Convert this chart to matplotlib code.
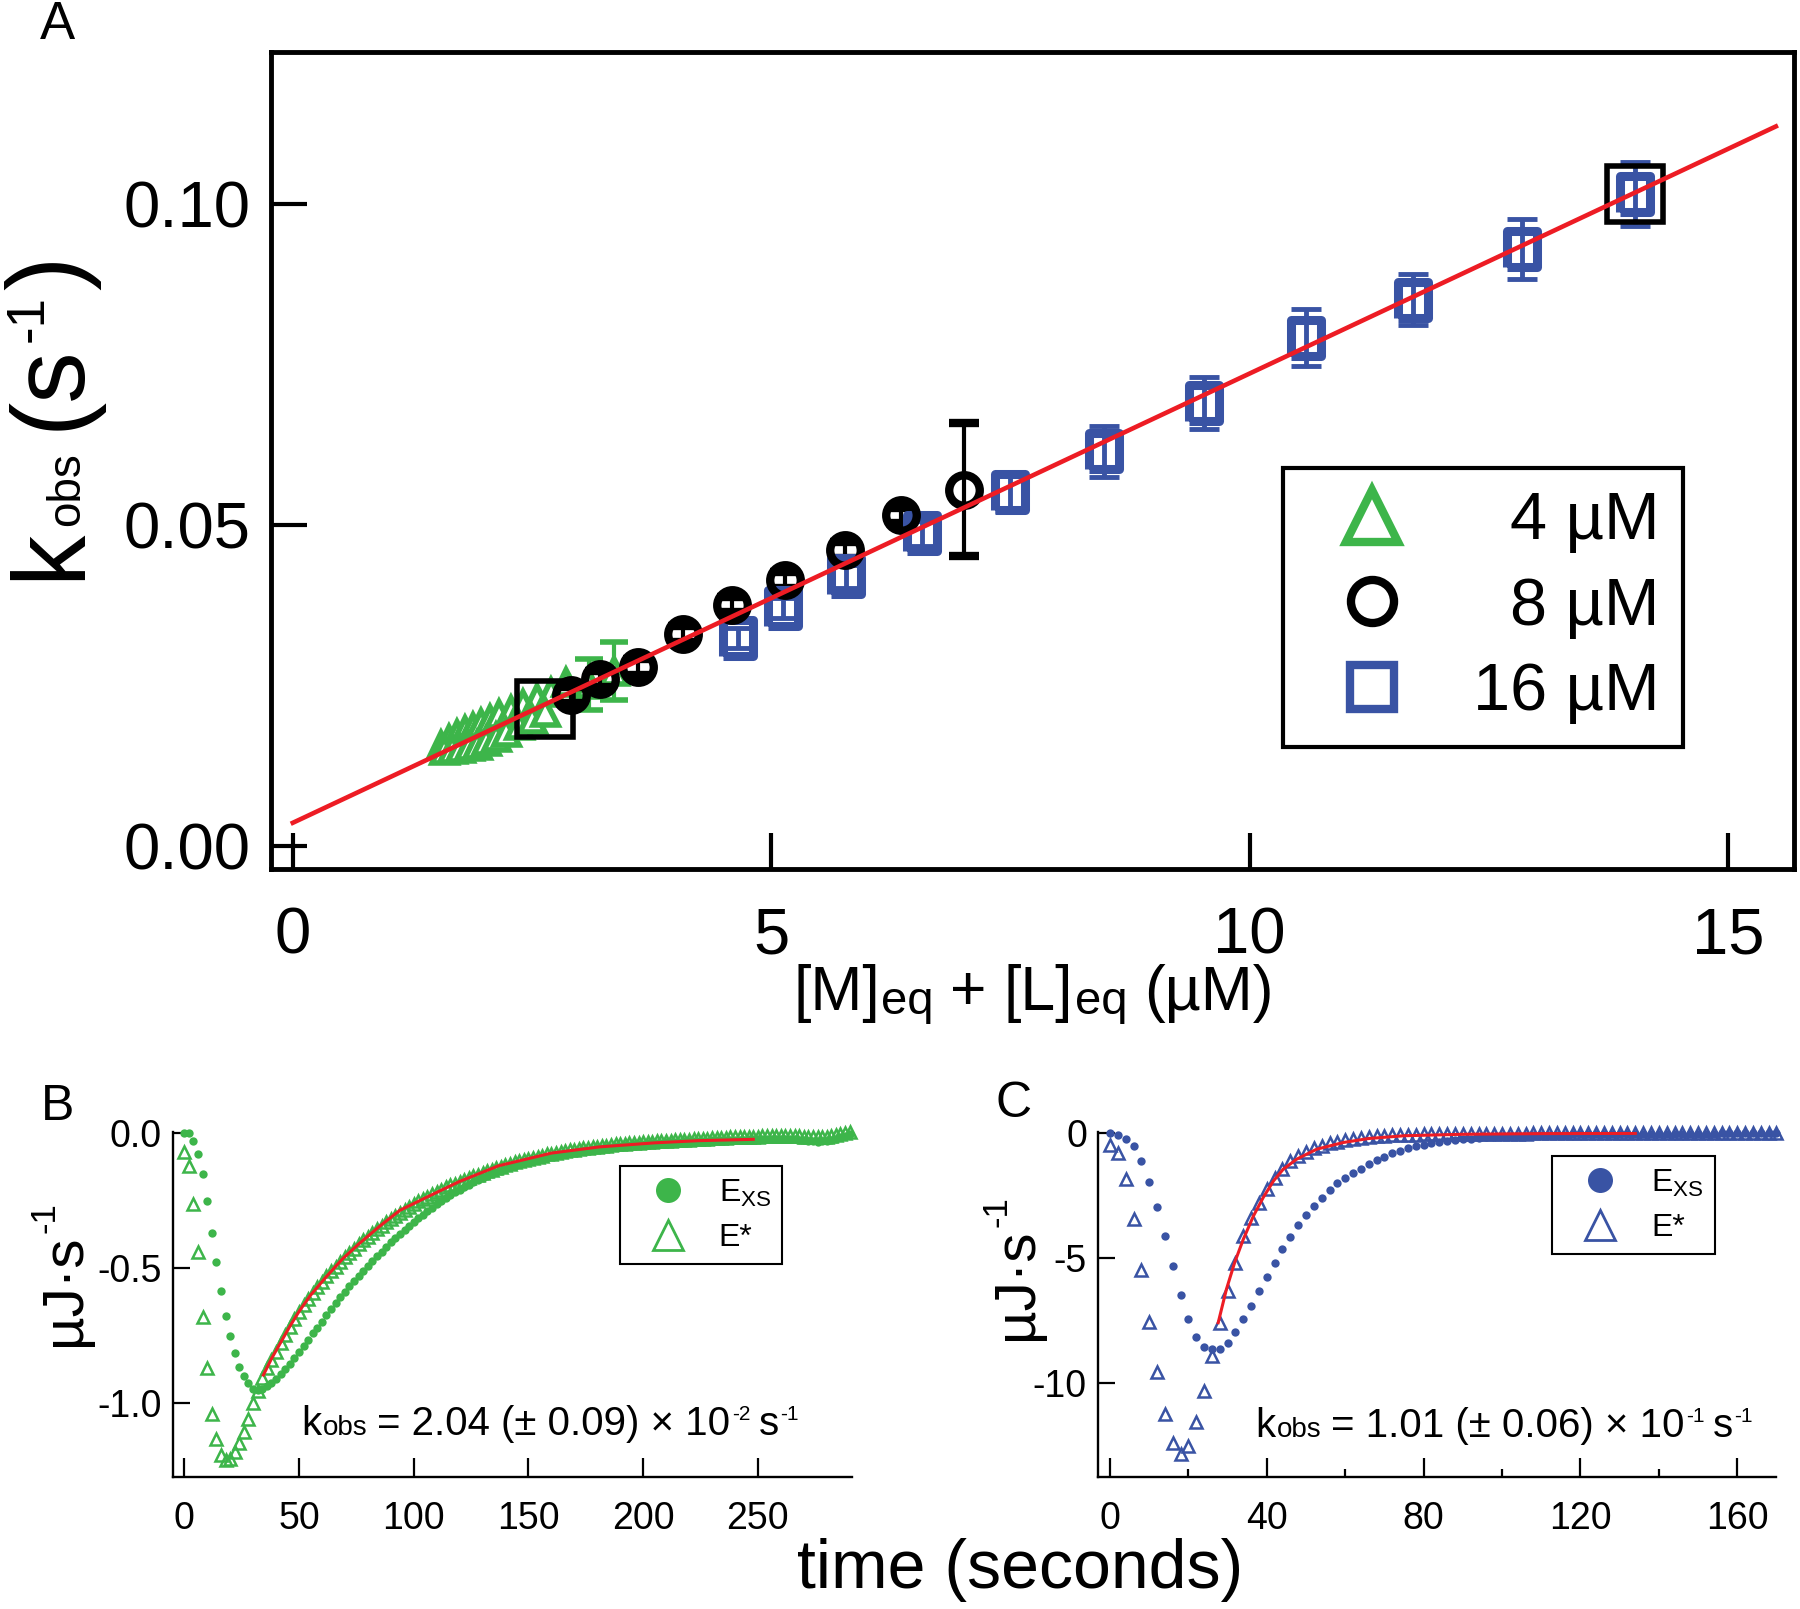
import numpy as np
import matplotlib
matplotlib.use('Agg')
import matplotlib.pyplot as plt
from matplotlib.lines import Line2D
from matplotlib.transforms import offset_copy

plt.rcParams['font.family'] = ['Liberation Sans', 'DejaVu Sans']
plt.rcParams['mathtext.fontset'] = 'custom'
plt.rcParams['mathtext.rm'] = 'Liberation Sans'
plt.rcParams['axes.unicode_minus'] = False

GREEN = '#3DB54A'
BLUE = '#3953A4'
RED = '#ED1C24'

# ---------------- panel A : kobs vs [M]eq + [L]eq ----------------
tri4_x = [1.55, 1.63, 1.72, 1.80, 1.88, 1.97, 2.06, 2.16, 2.28, 2.41, 2.55, 2.70, 2.86,
          1.58, 1.66, 1.75, 1.84, 1.93, 2.02, 2.12, 2.23, 2.36, 2.50, 2.64]
tri4_y = [0.0158, 0.0166, 0.0174, 0.0180, 0.0186, 0.0192, 0.0198, 0.0205, 0.0212, 0.0221, 0.0230, 0.0240, 0.0256,
          0.0150, 0.0151, 0.0153, 0.0155, 0.0158, 0.0163, 0.0170, 0.0178, 0.0188, 0.0198, 0.0208]
tri4_err_x = [3.10, 3.36]
tri4_err_y = [0.0252, 0.0272]
tri4_err = [0.0040, 0.0045]

circ8_x = [2.91, 3.21, 3.61, 4.08, 4.59, 5.14, 5.77, 6.36, 7.01]
circ8_y = [0.0235, 0.0260, 0.0279, 0.0330, 0.0376, 0.0414, 0.0461, 0.0515, 0.0555]
circ8_err = [0.0012, 0.0012, 0.0012, 0.0012, 0.0012, 0.0012, 0.0012, 0.0012, 0.0104]

sq16_x = [4.65, 5.12, 5.78, 6.58, 7.50, 8.48, 9.52, 10.59, 11.71, 12.85, 14.03]
sq16_y = [0.0324, 0.0371, 0.0420, 0.0487, 0.0552, 0.0615, 0.0690, 0.0792, 0.0851, 0.0930, 0.1016]
sq16_err = [0.0016, 0.0016, 0.0018, 0.0020, 0.0030, 0.0040, 0.0040, 0.0045, 0.0040, 0.0047, 0.0050]

fitA_x = [0.0, 15.5]
fitA_y = [0.0036, 0.1121]

box_x = [2.64, 14.03]
box_y = [0.0213, 0.1016]

# ---------------- panel B : 4 uM titration (green) ----------------
t_b = np.arange(0, 292, 2)
exs_b = [0.0, 0.0, -0.03, -0.075, -0.15, -0.25, -0.37, -0.475, -0.585, -0.675,
         -0.75, -0.815, -0.865, -0.90, -0.925, -0.945, -0.952, -0.947, -0.937, -0.926,
         -0.91, -0.892, -0.874, -0.853, -0.831, -0.808, -0.787, -0.764, -0.741, -0.719,
         -0.697, -0.673, -0.651, -0.629, -0.607, -0.587, -0.567, -0.547, -0.528, -0.51,
         -0.492, -0.473, -0.455, -0.438, -0.421, -0.404, -0.388, -0.372, -0.357, -0.342,
         -0.328, -0.314, -0.301, -0.288, -0.275, -0.263, -0.251, -0.24, -0.229, -0.218,
         -0.208, -0.199, -0.19, -0.181, -0.173, -0.165, -0.158, -0.151, -0.144, -0.138,
         -0.131, -0.126, -0.12, -0.115, -0.11, -0.105, -0.1, -0.096, -0.092, -0.088,
         -0.084, -0.08, -0.077, -0.074, -0.071, -0.068, -0.065, -0.062, -0.06, -0.058,
         -0.055, -0.053, -0.051, -0.049, -0.047, -0.046, -0.044, -0.043, -0.041, -0.04,
         -0.039, -0.037, -0.036, -0.035, -0.034, -0.033, -0.032, -0.031, -0.031, -0.03,
         -0.029, -0.029, -0.028, -0.027, -0.027, -0.026, -0.026, -0.025, -0.025, -0.024,
         -0.024, -0.023, -0.023, -0.022, -0.022, -0.022, -0.021, -0.021, -0.021, -0.02,
         -0.02, -0.02, -0.021, -0.022, -0.024, -0.026, -0.028, -0.03, -0.031, -0.03,
         -0.028, -0.025, -0.02, -0.014, -0.008, -0.004]
estar_b = [-0.07, -0.12, -0.26, -0.44, -0.68, -0.87, -1.04, -1.13, -1.19, -1.21,
           -1.205, -1.18, -1.145, -1.105, -1.058, -1.0, -0.955, -0.905, -0.87, -0.84,
           -0.81, -0.777, -0.746, -0.716, -0.688, -0.66, -0.636, -0.612, -0.59, -0.569,
           -0.549, -0.529, -0.511, -0.493, -0.476, -0.459, -0.443, -0.427, -0.411, -0.396,
           -0.382, -0.368, -0.355, -0.342, -0.33, -0.318, -0.306, -0.294, -0.283, -0.272,
           -0.262, -0.252, -0.243, -0.234, -0.226, -0.218, -0.209, -0.198, -0.192, -0.187,
           -0.18, -0.173, -0.166, -0.159, -0.153, -0.147, -0.141, -0.135, -0.129, -0.123,
           -0.118, -0.112, -0.107, -0.102, -0.098, -0.094, -0.09, -0.086, -0.082, -0.078,
           -0.075, -0.072, -0.069, -0.066, -0.063, -0.06, -0.058, -0.055, -0.053, -0.051,
           -0.049, -0.047, -0.045, -0.043, -0.041, -0.04, -0.038, -0.037, -0.035, -0.034,
           -0.033, -0.032, -0.031, -0.03, -0.029, -0.028, -0.027, -0.026, -0.025, -0.024,
           -0.023, -0.022, -0.021, -0.02, -0.019, -0.018, -0.017, -0.016, -0.016, -0.015,
           -0.014, -0.014, -0.013, -0.013, -0.012, -0.012, -0.011, -0.011, -0.011, -0.01,
           -0.01, -0.01, -0.01, -0.01, -0.011, -0.012, -0.013, -0.014, -0.014, -0.013,
           -0.012, -0.01, -0.007, -0.003, 0.002, 0.006]
fitB_t = [34.5, 38, 42, 46, 50, 55, 62, 69, 76, 85, 94, 106, 120, 137, 160, 181, 205, 224, 248]
fitB_y = [-0.895, -0.835, -0.775, -0.715, -0.66, -0.60, -0.53, -0.465, -0.41, -0.345, -0.285,
          -0.235, -0.178, -0.12, -0.073, -0.05, -0.035, -0.027, -0.022]

# ---------------- panel C : 16 uM titration (blue) ----------------
t_c = np.arange(0, 172, 2)
exs_c = [0.0, -0.07, -0.21, -0.53, -1.13, -1.95, -2.97, -4.12, -5.32, -6.48,
         -7.46, -8.15, -8.55, -8.66, -8.63, -8.39, -7.97, -7.43, -6.92, -6.32,
         -5.75, -5.19, -4.65, -4.16, -3.69, -3.29, -2.91, -2.58, -2.29, -2.0,
         -1.78, -1.58, -1.42, -1.24, -1.08, -0.94, -0.8, -0.71, -0.61, -0.53,
         -0.48, -0.4, -0.35, -0.31, -0.27, -0.24, -0.21, -0.18, -0.16, -0.14,
         -0.12, -0.11, -0.1, -0.09, -0.08, -0.07, -0.06, -0.055, -0.05, -0.045,
         -0.04, -0.035, -0.03, -0.03, -0.025, -0.025, -0.02, -0.02, -0.02, -0.015,
         -0.015, -0.015, -0.01, -0.01, -0.01, -0.01, -0.01, -0.01, -0.005, -0.005,
         -0.005, -0.005, -0.005, 0.0, 0.0, 0.0]
estar_c = [-0.48, -0.81, -1.82, -3.45, -5.48, -7.55, -9.57, -11.24, -12.4, -12.87,
           -12.54, -11.58, -10.33, -8.93, -7.59, -6.32, -5.18, -4.12, -3.38, -2.78,
           -2.25, -1.78, -1.44, -1.11, -0.91, -0.75, -0.61, -0.51, -0.4, -0.33,
           -0.27, -0.22, -0.18, -0.15, -0.12, -0.1, -0.08, -0.07, -0.06, -0.05,
           -0.04, -0.035, -0.03, -0.03, -0.025, -0.02, -0.02, -0.02, -0.015, -0.015,
           -0.01, -0.01, -0.01, -0.01, -0.005, -0.005, -0.005, -0.005, 0.0, 0.0,
           0.0, 0.0, 0.0, 0.0, 0.0, 0.0, 0.0, 0.0, 0.0, 0.0,
           0.0, 0.0, 0.0, 0.0, 0.0, 0.0, 0.0, 0.0, 0.0, 0.0,
           0.0, 0.0, 0.0, 0.0, 0.0, 0.0]
fitC_t = [27.6, 29.7, 31.8, 34.0, 36.6, 39.1, 41.7, 44.2, 47.6, 52.7, 59.5, 66, 75, 90, 110, 134]
fitC_y = [-7.59, -6.25, -5.18, -4.25, -3.31, -2.57, -1.91, -1.44, -1.04, -0.64, -0.37,
          -0.21, -0.1, -0.04, -0.015, -0.005]


def rich_text(fig, x, y, pieces, rotation=0, center=False):
    # pieces: (text, fontsize, rise in pt, gap before in pt)
    renderer = fig.canvas.get_renderer()
    items = []
    for s, size, rise, gap in pieces:
        t = fig.text(x, y, s, fontsize=size, rotation=rotation,
                     rotation_mode='anchor', ha='left', va='baseline')
        bb = t.get_window_extent(renderer)
        w = (bb.height if rotation == 90 else bb.width) * 72.0 / fig.dpi
        items.append((t, w, rise, gap))
    total = sum(w + g for _, w, _, g in items)
    pos = -total / 2 if center else 0.0
    for t, w, rise, gap in items:
        pos += gap
        if rotation == 90:
            dx, dy = -rise, pos
        else:
            dx, dy = pos, rise
        t.set_transform(offset_copy(fig.transFigure, fig=fig, x=dx, y=dy, units='points'))
        pos += w


fig = plt.figure(figsize=(18, 16.09), dpi=100)

# ---------------- A ----------------
axA = fig.add_axes([0.1506, 0.4599, 0.8461, 0.5078])
axA.plot(tri4_x, tri4_y, ls='none', marker='^', ms=18, mfc='white', mec=GREEN, mew=4, zorder=2)
axA.errorbar(tri4_err_x, tri4_err_y, yerr=tri4_err, fmt='^', ms=18, mfc='white', mec=GREEN,
             mew=4, ecolor=GREEN, elinewidth=3, capsize=10, capthick=3, zorder=2)
axA.errorbar(circ8_x, circ8_y, yerr=circ8_err, fmt='o', ms=22, mfc='none', mec='black',
             mew=6, ecolor='black', elinewidth=3, capsize=11, capthick=3, zorder=3)
rect = [(-0.85, -1), (0.85, -1), (0.85, 1), (-0.85, 1), (-0.85, -1)]
axA.errorbar(sq16_x, sq16_y, yerr=sq16_err, fmt='none', ecolor=BLUE, elinewidth=3.5,
             capsize=11, capthick=3.5, zorder=3)
axA.plot(sq16_x, sq16_y, ls='none', marker=rect, ms=26, mfc='none', mec=BLUE, mew=6.5, zorder=3)
axA.plot(box_x, box_y, ls='none', marker='s', ms=41, mfc='none', mec='black', mew=4, zorder=5)
axA.plot(fitA_x, fitA_y, color=RED, lw=3.3, zorder=6)

axA.set_xlim(-0.227, 15.69)
axA.set_ylim(-0.0036, 0.1237)
axA.set_xticks([0, 5, 10, 15])
axA.set_yticks([0.0, 0.05, 0.10])
axA.set_yticklabels(['0.00', '0.05', '0.10'])
for sp in axA.spines.values():
    sp.set_linewidth(3.5)
axA.tick_params(direction='in', length=26, width=3, labelsize=47)
axA.tick_params(axis='x', pad=27)
axA.tick_params(axis='y', pad=15)

legA_handles = [
    Line2D([], [], ls='none', marker='^', ms=37, mfc='white', mec=GREEN, mew=6),
    Line2D([], [], ls='none', marker='o', ms=31, mfc='white', mec='black', mew=6),
    Line2D([], [], ls='none', marker='s', ms=31, mfc='white', mec=BLUE, mew=6),
]
legA = axA.legend(legA_handles, ['\u20074 µM', '\u20078 µM', '16 µM'], loc='upper left',
                  bbox_to_anchor=(0.6645, 0.491), borderaxespad=0, fontsize=48,
                  frameon=True, fancybox=False, edgecolor='black', framealpha=1,
                  borderpad=0.35, handlelength=1.97, handletextpad=0.53, labelspacing=0.35)
legA.get_frame().set_linewidth(3)

fig.text(57 / 1800, 1 - 25 / 1609, 'A', fontsize=38, ha='center', va='center')
rich_text(fig, 0.0439, 0.7402,
          [('k', 74, 0, 0), ('obs', 33, 0, 2), ('(s', 74, 0, 16), ('-1', 38, 26, 2), (')', 74, 0, 3)],
          rotation=90, center=True)
rich_text(fig, 0.574, 1 - 1010 / 1609,
          [('[M]', 45, 0, 0), ('eq', 34, -3, 1), ('+', 45, 0, 12), ('[L]', 45, 0, 12),
           ('eq', 34, -3, 1), ('(µM)', 45, 0, 12)], center=True)

# ---------------- B ----------------
axB = fig.add_axes([0.0961, 0.0818, 0.3772, 0.2148])
axB.plot(t_b, exs_b, ls='none', marker='o', ms=6, color=GREEN, mew=0, clip_on=False, zorder=2)
axB.plot(t_b, estar_b, ls='none', marker='^', ms=8.5, mfc='none', mec=GREEN, mew=1.8,
         clip_on=False, zorder=2)
axB.plot(fitB_t, fitB_y, color=RED, lw=2.2, zorder=4)
axB.set_xlim(-4.9, 291)
axB.set_ylim(-1.274, 0.006)
axB.set_xticks([0, 50, 100, 150, 200, 250])
axB.set_yticks([-1.0, -0.5, 0.0])
axB.set_yticklabels(['-1.0', '-0.5', '0.0'])

legB_handles = [
    Line2D([], [], ls='none', marker='o', ms=18, color=GREEN, mew=0),
    Line2D([], [], ls='none', marker='^', ms=21, mfc='none', mec=GREEN, mew=2),
]
legB = axB.legend(legB_handles, ['E$_{\\mathregular{XS}}$', 'E*'], loc='upper left',
                  bbox_to_anchor=(0.658, 0.90), borderaxespad=0, fontsize=23,
                  frameon=True, fancybox=False, edgecolor='black', framealpha=1,
                  borderpad=0.35, handlelength=2.3, handletextpad=0.45, labelspacing=0.45)
legB.get_frame().set_linewidth(1.5)

# ---------------- C ----------------
axC = fig.add_axes([0.61, 0.0818, 0.3767, 0.2148])
axC.plot(t_c, exs_c, ls='none', marker='o', ms=6, color=BLUE, mew=0, clip_on=False, zorder=2)
axC.plot(t_c, estar_c, ls='none', marker='^', ms=8.5, mfc='none', mec=BLUE, mew=1.8,
         clip_on=False, zorder=2)
axC.plot(fitC_t, fitC_y, color=RED, lw=2.2, zorder=4)
axC.set_xlim(-3.06, 169.9)
axC.set_ylim(-13.79, 0.06)
axC.set_xticks([0, 40, 80, 120, 160])
axC.set_xticks([20, 60, 100, 140], minor=True)
axC.set_yticks([-10, -5, 0])
axC.tick_params(axis='x', which='minor', direction='in', length=6, width=1.6)

legC_handles = [
    Line2D([], [], ls='none', marker='o', ms=18, color=BLUE, mew=0),
    Line2D([], [], ls='none', marker='^', ms=21, mfc='none', mec=BLUE, mew=2),
]
legC = axC.legend(legC_handles, ['E$_{\\mathregular{XS}}$', 'E*'], loc='upper left',
                  bbox_to_anchor=(0.6696, 0.9297), borderaxespad=0, fontsize=23,
                  frameon=True, fancybox=False, edgecolor='black', framealpha=1,
                  borderpad=0.35, handlelength=2.3, handletextpad=0.45, labelspacing=0.45)
legC.get_frame().set_linewidth(1.5)

for ax in (axB, axC):
    ax.spines['top'].set_visible(False)
    ax.spines['right'].set_visible(False)
    ax.spines['left'].set_linewidth(1.7)
    ax.spines['bottom'].set_linewidth(1.7)
    ax.tick_params(which='major', direction='in', width=1.6, labelsize=27)
    ax.tick_params(axis='y', which='major', length=12, pad=8)
    ax.tick_params(axis='x', which='major', length=14, pad=17)

fig.text(57.5 / 1800, 1 - 1107.5 / 1609, 'B', fontsize=36, ha='center', va='center')
fig.text(1014 / 1800, 1 - 1104 / 1609, 'C', fontsize=36, ha='center', va='center')

rich_text(fig, 80 / 1800, 1 - 1274 / 1609, [('µJ·s', 42, 0, 0), ('-1', 25, 18, 1)],
          rotation=90, center=True)
rich_text(fig, 1032 / 1800, 1 - 1268 / 1609, [('µJ·s', 42, 0, 0), ('-1', 25, 18, 1)],
          rotation=90, center=True)

rich_text(fig, 301.5 / 1800, 1 - 1435 / 1609,
          [('k', 29, 0, 0), ('obs', 20, 0, 1), ('= 2.04 (± 0.09) × 10', 29, 0, 7),
           ('-2', 15, 11, 1), ('s', 29, 0, 6), ('-1', 15, 11, 1)])
rich_text(fig, 1255 / 1800, 1 - 1437 / 1609,
          [('k', 29, 0, 0), ('obs', 20, 0, 1), ('= 1.01 (± 0.06) × 10', 29, 0, 7),
           ('-1', 15, 11, 1), ('s', 29, 0, 6), ('-1', 15, 11, 1)])

fig.text(1020.6 / 1800, 1 - 1570 / 1609, 'time (seconds)', fontsize=49, ha='center', va='center')

fig.savefig('out.png', dpi=100)
